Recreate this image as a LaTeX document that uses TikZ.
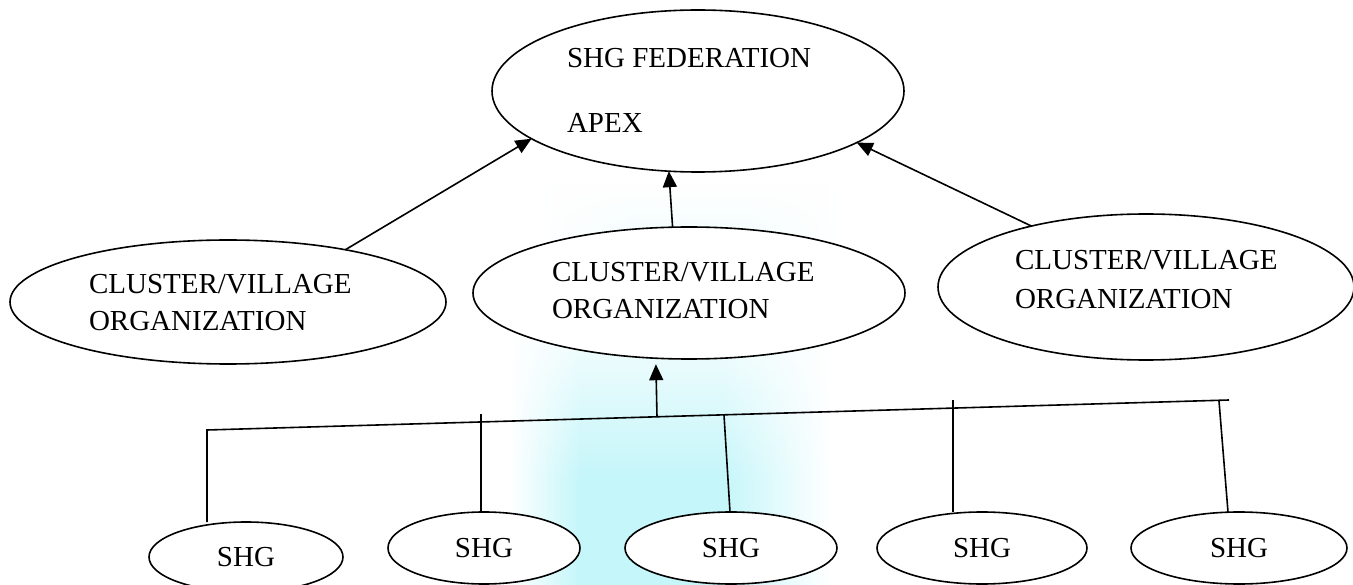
\documentclass[tikz,border=0pt]{standalone}
\usepackage{fontspec}
\setmainfont{Liberation Serif}
\usetikzlibrary{shapes.geometric,arrows.meta,calc,fadings}
\definecolor{wm}{RGB}{196,246,250}
\pgfdeclarehorizontalshading{wmband}{100bp}{color(0bp)=(white); color(25bp)=(white); color(36bp)=(wm); color(58bp)=(wm); color(75bp)=(white); color(100bp)=(white)}
\pgfdeclarehorizontalshading{wmtop}{100bp}{color(0bp)=(white); color(25bp)=(white); color(40bp)=(wm!40); color(60bp)=(wm!40); color(75bp)=(white); color(100bp)=(white)}
\begin{document}
\begin{tikzpicture}[x=1pt,y=-1pt,
  oval/.style={ellipse,draw,line width=1.6pt,fill=white,inner sep=0pt,outer sep=0pt,font=\fontsize{29}{35}\selectfont},
  lbl/.style={anchor=base west,inner sep=0pt,outer sep=0pt,font=\fontsize{29}{35}\selectfont},
  link/.style={line width=1.6pt},
  arr/.style={line width=1.6pt,-{Triangle[length=16pt,width=14pt]}}]
\useasboundingbox (0,0) rectangle (1353,585);
\fill[white] (0,0) rectangle (1353,585);
% faint watermark band
\shade[shading=wmtop,path fading=north] (540,185) rectangle (840,300);
\shade[shading=wmband,path fading=north] (510,300) rectangle (830,480);
\shade[shading=wmband] (510,480) rectangle (830,585);

% ellipses
\node[oval,minimum width=412pt,minimum height=162pt] (T) at (698,91) {};
\node[oval,minimum width=436pt,minimum height=124pt] (L) at (228,302) {};
\node[oval,minimum width=432pt,minimum height=132pt] (M) at (689,293) {};
\node[oval,minimum width=416pt,minimum height=146pt] (R) at (1146,287) {};
\node[oval,minimum width=194pt,minimum height=70pt] (S1) at (246,557) {SHG};
\node[oval,minimum width=192pt,minimum height=72pt] (S2) at (484,548) {SHG};
\node[oval,minimum width=212pt,minimum height=72pt] (S3) at (731,548) {SHG};
\node[oval,minimum width=210pt,minimum height=72pt] (S4) at (982,548) {SHG};
\node[oval,minimum width=216pt,minimum height=72pt] (S5) at (1239,548) {SHG};

% labels
\node[lbl] (t1) at (567,68) {SHG FEDERATION};
\node[lbl] (t2) at (567,133) {APEX};
\node[lbl] (t3) at (89,294) {CLUSTER/VILLAGE};
\node[lbl] (t4) at (89,331) {ORGANIZATION};
\node[lbl] (t5) at (552,282) {CLUSTER/VILLAGE};
\node[lbl] (t6) at (552,319) {ORGANIZATION};
\node[lbl] (t7) at (1015,270) {CLUSTER/VILLAGE};
\node[lbl] (t8) at (1015,309) {ORGANIZATION};

% arrows to apex
\draw[arr] (L.24.7) -- (T.196.2);
\draw[arr] (M.104.4) -- (T.250.5);
\draw[arr] (R.152.3) -- (T.342.7);

% bar and drops
\coordinate (c1) at (207,430);
\coordinate (c2) at (481,414);
\coordinate (c3) at (724,415);
\coordinate (c4) at (953,400);
\coordinate (c5) at (1219,401);
\coordinate (bR) at (1229,400);
\coordinate (j0) at (657,417);
\draw[link] (c1 |- S1.north) -- (c1) -- (bR);
\draw[link] (c2) -- (c2 |- S2.north);
\draw[link] (c3) -- ($(S3.north)+(-1,0)$);
\draw[link] (c4) -- (c4 |- S4.north);
\draw[link] (c5) -- ($(S5.north)+(-11,0)$);
\draw[arr,shorten >=6pt] (j0) -- (M.243.9);
\end{tikzpicture}
\end{document}
